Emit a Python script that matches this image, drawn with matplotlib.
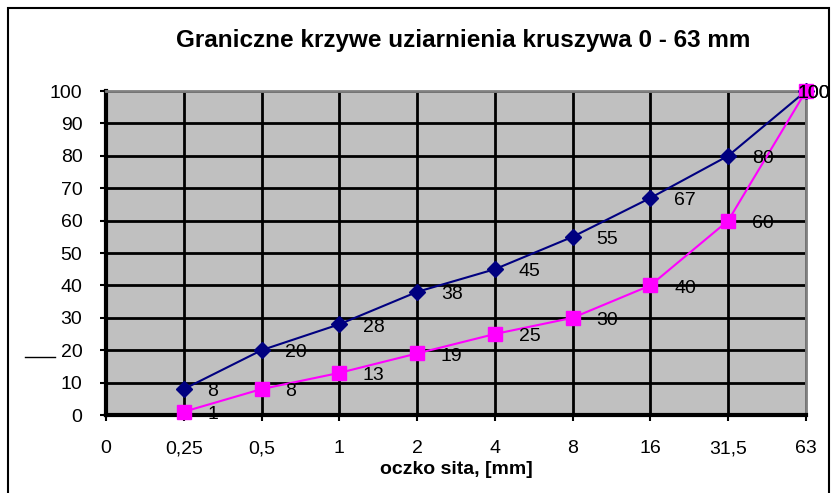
import matplotlib.pyplot as plt
from matplotlib.lines import Line2D
from matplotlib.patches import Rectangle

plt.rcParams['font.family'] = ['Liberation Sans', 'DejaVu Sans']

# sieve sizes (categorical axis) and grading limits, % passing
sieves = ["0", "0,25", "0,5", "1", "2", "4", "8", "16", "31,5", "63"]
upper = [8, 20, 28, 38, 45, 55, 67, 80, 100]
lower = [1, 8, 13, 19, 25, 30, 40, 60, 100]

W, H = 835, 493
fig = plt.figure(figsize=(W / 100, H / 100), dpi=100)
ax = fig.add_axes([106 / W, 1 - 415 / H, 700 / W, 324 / H])
ax.set_facecolor("#c0c0c0")

xs = list(range(1, len(sieves)))
ax.plot(xs, upper, color="#000080", lw=1.5, marker="D", ms=8.5,
        mfc="#000080", mec="#000080", zorder=4, clip_on=False)
ax.plot(xs, lower, color="#ff00ff", lw=1.5, marker="s", ms=10,
        mfc="#ff00ff", mec="#ff00ff", zorder=5, clip_on=False)

# data labels to the right of each point (Excel pushes the last one inside)
for vals in (upper, lower):
    for i, (x, v) in enumerate(zip(xs, vals)):
        dx = 17 if i < len(xs) - 1 else -6
        ax.annotate(str(v), (x, v), xytext=(dx, -2), textcoords="offset points",
                    ha="left", va="center", fontsize=14, zorder=6,
                    annotation_clip=False)

ax.set_xlim(0, 9)
ax.set_ylim(0, 100)
ax.set_xticks(range(len(sieves)))
ax.set_xticklabels(sieves, fontsize=14)
ax.set_yticks(range(0, 101, 10))
ax.tick_params(axis="y", labelsize=14, length=4, width=1.5, pad=13)
ax.tick_params(axis="x", length=4, width=1.5, pad=14)
ax.grid(True, color="black", lw=2)
ax.set_axisbelow(True)

for side in ("left", "bottom"):
    ax.spines[side].set_linewidth(3)
    ax.spines[side].set_color("black")
for side in ("top", "right"):
    ax.spines[side].set_linewidth(2)
    ax.spines[side].set_color("#808080")

ax.set_xlabel("oczko sita, [mm]", fontsize=14, fontweight="bold", labelpad=3)
fig.text(463 / W, 1 - 40 / H, "Graniczne krzywe uziarnienia kruszywa 0 - 63 mm",
         ha="center", va="center", fontsize=17.5, fontweight="bold")

# chart frame and stray legend stub
fig.patches.append(Rectangle((8 / W, -0.1), 821 / W, 1.1 - 8 / H, fill=False,
                             ec="black", lw=1.5, transform=fig.transFigure))
fig.lines.append(Line2D([25 / W, 55 / W], [1 - 357 / H, 1 - 357 / H],
                        color="black", lw=1, transform=fig.transFigure))

fig.savefig("out.png", dpi=100)
